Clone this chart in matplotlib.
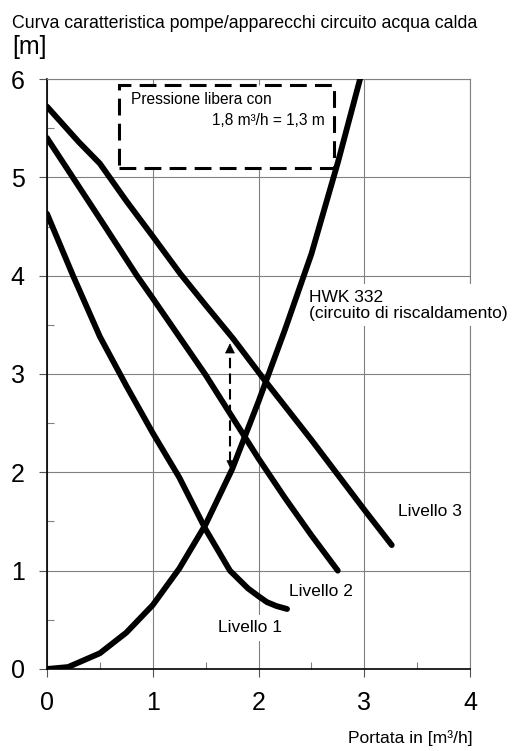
import matplotlib.pyplot as plt
from matplotlib.patches import Rectangle

plt.rcParams['font.family'] = ['Liberation Sans', 'DejaVu Sans']

# pump curves, head [m] over flow [m3/h]
q_liv1 = [0.0, 0.25, 0.5, 0.75, 1.0, 1.25, 1.5, 1.73, 1.9, 2.0, 2.08, 2.17, 2.27]
h_liv1 = [4.63, 3.99, 3.38, 2.88, 2.40, 1.95, 1.42, 1.00, 0.82, 0.74, 0.68, 0.64, 0.61]

q_liv2 = [0.0, 0.25, 0.5, 0.85, 1.0, 1.5, 2.0, 2.25, 2.5, 2.75]
h_liv2 = [5.40, 4.99, 4.58, 4.00, 3.77, 2.99, 2.14, 1.74, 1.36, 1.00]

q_liv3 = [0.0, 0.3, 0.5, 0.75, 1.0, 1.26, 1.5, 1.76, 2.07, 2.5, 3.0, 3.26]
h_liv3 = [5.72, 5.36, 5.14, 4.76, 4.40, 4.02, 3.70, 3.36, 2.92, 2.33, 1.62, 1.26]

# heating circuit resistance HWK 332
q_hwk = [0.0, 0.2, 0.5, 0.75, 1.0, 1.25, 1.5, 1.75, 2.0, 2.25, 2.5, 2.75, 3.0, 3.1]
h_hwk = [0.0, 0.02, 0.16, 0.37, 0.65, 1.02, 1.47, 2.03, 2.72, 3.45, 4.22, 5.15, 6.16, 6.55]

# free head at the operating point
q_op = 1.73
h_op_low = 2.02
h_op_high = 3.34

fig = plt.figure(figsize=(5.12, 7.51), dpi=100)
ax = fig.add_axes([0.0918, 0.1092, 0.8262, 0.7856])

ax.set_xlim(0, 4)
ax.set_ylim(0, 6)
ax.set_axisbelow(True)
ax.grid(True, which='major', color='#808080', linewidth=0.8, zorder=0.5)

ax.set_xticks([0, 1, 2, 3, 4])
ax.set_yticks([0, 1, 2, 3, 4, 5, 6])
ax.set_xticks([0.5, 1.5, 2.5, 3.5], minor=True)
ax.set_yticks([0.5, 1.5, 2.5, 3.5, 4.5, 5.5], minor=True)
ax.tick_params(which='major', direction='out', length=6, width=0.8, color='#555555',
               labelsize=18, pad=10)
ax.tick_params(which='minor', direction='in', length=5, width=0.8, color='#808080')

for s in ['left', 'bottom']:
    ax.spines[s].set_linewidth(1.2)
    ax.spines[s].set_color('black')
for s in ['top', 'right']:
    ax.spines[s].set_linewidth(0.8)
    ax.spines[s].set_color('#808080')

lw = 4.2
ax.plot(q_liv1, h_liv1, color='black', lw=lw, solid_capstyle='round', zorder=3)
ax.plot(q_liv2, h_liv2, color='black', lw=lw, solid_capstyle='round', zorder=3)
ax.plot(q_liv3, h_liv3, color='black', lw=lw, solid_capstyle='round', zorder=3)
ax.plot(q_hwk, h_hwk, color='black', lw=lw, solid_capstyle='round', zorder=3)

# dashed double arrow for the free head
ax.plot([q_op, q_op], [h_op_low + 0.08, h_op_high - 0.12], color='black', lw=1.5,
        linestyle=(0, (5, 2.5)), zorder=3)
ax.annotate('', xy=(q_op, h_op_high), xytext=(q_op, h_op_high - 0.15),
            arrowprops=dict(arrowstyle='-|>', color='black', mutation_scale=16, lw=0.5),
            zorder=3)
ax.annotate('', xy=(q_op, h_op_low), xytext=(q_op, h_op_low + 0.12),
            arrowprops=dict(arrowstyle='-|>', color='black', mutation_scale=11, lw=0.5),
            zorder=3)

# note box
box = Rectangle((0.68, 5.09), 2.03, 0.85, facecolor='white', edgecolor='black',
                linewidth=2.2, linestyle=(0, (5.5, 2.7)), zorder=1.5)
ax.add_patch(box)
ax.text(0.79, 5.79, 'Pressione libera con', fontsize=11.2, va='center', ha='left', zorder=2)
ax.text(2.63, 5.58, '1,8 m³/h = 1,3 m', fontsize=11.2, va='center', ha='right', zorder=2)

white = dict(facecolor='white', edgecolor='none', pad=4)
ax.text(2.48, 3.70, 'HWK 332\n(circuito di riscaldamento)', fontsize=12.5, va='center',
        ha='left', linespacing=1.1, bbox=white, zorder=2.8, clip_on=False)
ax.text(3.32, 1.60, 'Livello 3', fontsize=12.5, va='center', ha='left', bbox=white,
        zorder=2.8, clip_on=False)
ax.text(2.29, 0.79, 'Livello 2', fontsize=12.5, va='center', ha='left', bbox=white,
        zorder=2.8)
ax.text(1.62, 0.42, 'Livello 1', fontsize=12.5, va='center', ha='left', bbox=white,
        zorder=2.8)

fig.text(0.023, 0.969, 'Curva caratteristica pompe/apparecchi circuito acqua calda',
         fontsize=12.8, va='center', ha='left')
fig.text(0.023, 0.937, '[m]', fontsize=18, va='center', ha='left')
fig.text(0.924, 0.017, 'Portata in [m³/h]', fontsize=12.6, va='center', ha='right')

fig.savefig('out.png', dpi=100)
